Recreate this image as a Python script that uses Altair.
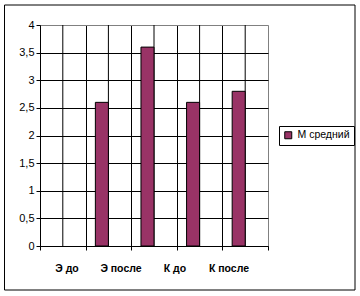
import altair as alt
import pandas as pd

categories = ["", "Э до", "Э после", "К до", "К после"]
values = [None, 2.6, 3.6, 2.6, 2.8]
series_name = "М средний"
series_slots = [series_name, "(пусто)"]
y_ticks = [0, 0.5, 1, 1.5, 2, 2.5, 3, 3.5, 4]

bars_df = pd.DataFrame({"cat": categories, "val": values, "series": series_name})
slots_df = pd.DataFrame({"cat": categories})
labels_df = pd.DataFrame({"label": categories[1:]})
frame_df = pd.DataFrame({"k": [0]})

FONT = "Liberation Sans"
EDGE = "#808080"

x_scale = alt.Scale(domain=categories, paddingInner=0, paddingOuter=0)

frame = alt.Chart(frame_df).mark_rect(fill=None, stroke="black", strokeWidth=1).encode(
    x=alt.value(-35.5), x2=alt.value(315), y=alt.value(-20), y2=alt.value(265)
)

rules = alt.Chart(slots_df).mark_rule(color="black", strokeWidth=1).encode(
    x=alt.X("cat:N", scale=x_scale, axis=None, sort=None)
)

bars = alt.Chart(bars_df).mark_bar(stroke="black", strokeWidth=1).encode(
    x=alt.X("cat:N", scale=x_scale, sort=None,
            axis=alt.Axis(title=None, labels=False, tickBand="extent", grid=True,
                          gridColor=alt.condition(f"datum.value === '{categories[-1]}'",
                                                  alt.value(EDGE), alt.value("black")),
                          gridOpacity=1, ticks=True, tickColor="black",
                          tickSize=4, domainColor="black")),
    xOffset=alt.XOffset("series:N", scale=alt.Scale(domain=series_slots, paddingInner=0, paddingOuter=0.75)),
    y=alt.Y("val:Q", scale=alt.Scale(domain=[0, 4]),
            axis=alt.Axis(title=None, values=y_ticks,
                          labelExpr="replace(format(datum.value, '~g'), '.', ',')",
                          labelFontSize=11, labelColor="black", tickColor="black", tickSize=4,
                          domainColor="black",
                          gridColor=alt.condition("datum.value >= 4", alt.value(EDGE), alt.value("black")),
                          gridOpacity=1, labelPadding=2)),
    color=alt.Color("series:N", scale=alt.Scale(domain=[series_name], range=["#993366"]),
                    legend=alt.Legend(title=None, orient="none", legendX=239, legendY=101,
                                      strokeColor="black", fillColor="white", padding=4,
                                      symbolType="square", symbolSize=49, symbolStrokeColor="black",
                                      symbolStrokeWidth=1, labelFontSize=10.5, labelColor="black",
                                      labelFont=FONT, cornerRadius=0)),
)

labels = alt.Chart(labels_df).mark_point(opacity=0).encode(
    x=alt.X("label:N", sort=None,
            scale=alt.Scale(type="band", range=[0, 216], paddingInner=0, paddingOuter=0),
            axis=alt.Axis(title=None, orient="bottom", domain=False, ticks=False,
                          labelFontWeight="bold", labelFontSize=10.5, labelColor="black",
                          labelPadding=17, labelAngle=0))
)

chart = alt.layer(frame, rules, bars, labels).resolve_scale(x="independent").properties(
    width=228, height=221,
    autosize=alt.AutoSizeParams(type="none"),
    padding={"left": 40, "top": 25, "right": 92, "bottom": 50},
    background="white",
).configure_view(fill="#C0C0C0", stroke=EDGE, strokeWidth=1).configure(font=FONT)

chart.save("out.html", embed_options={"renderer": "svg", "actions": False})
